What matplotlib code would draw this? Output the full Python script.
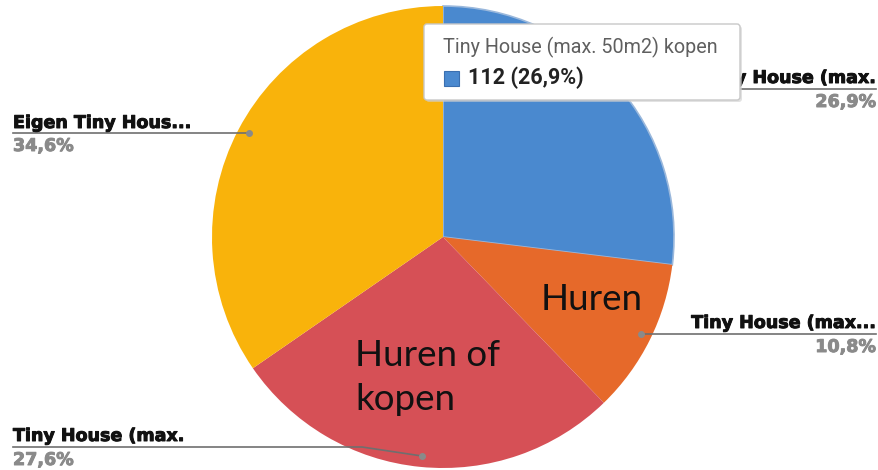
import matplotlib.pyplot as plt
import matplotlib.patheffects as pe
from matplotlib.patches import FancyBboxPatch, Rectangle

labels = ['Tiny House (max.', 'Tiny House (max...', 'Tiny House (max.', 'Eigen Tiny Hous...']
values = [112, 45, 115, 144]
pcts = ['26,9%', '10,8%', '27,6%', '34,6%']
colors = ['#4a89cf', '#e6692a', '#d65056', '#f9b30b']

W, H = 879, 470
fig = plt.figure(figsize=(W / 100, H / 100), dpi=100)
ax = fig.add_axes([0, 0, 1, 1])

cx, cy, r = 443, H - 237, 231
wedges, _ = ax.pie(values, colors=colors, startangle=90, counterclock=False,
                   center=(cx, cy), radius=r, frame=True)
ax.set_xlim(0, W)
ax.set_ylim(0, H)
ax.set_aspect('equal')
ax.axis('off')
wedges[0].set_edgecolor('#9ab8dc')
wedges[0].set_linewidth(1.2)

# outside labels (y in image pixels from top)
lab_font = dict(family='DejaVu Sans', weight='bold', fontsize=12.6)
# (text x, text y, ha, line x0, line x1, line y end, dot x, dot y)
specs = [
    (876, 78, 'right', 640, 876, 89, None, None),
    (876, 323, 'right', 641, 876, 334, 641, 334),
    (13, 436, 'left', 13, 422, 447, 422, 456),
    (13, 123, 'left', 13, 249, 133, 249, 133),
]
for i, (tx, ty, ha, x0, x1, ly, dx, dy) in enumerate(specs):
    ax.text(tx, H - ty, labels[i], ha=ha, va='center', color='#111111',
            path_effects=[pe.withStroke(linewidth=0.7, foreground='#111111')], **lab_font)
    ax.text(tx, H - (ly + 13), pcts[i], ha=ha, va='center', color='#8a8a8a',
            path_effects=[pe.withStroke(linewidth=0.7, foreground='#8a8a8a')], **lab_font)
    if dx is not None:
        if ha == 'left':
            ax.plot([x0, x1 - 60, dx], [H - ly, H - ly, H - dy], color='#6f6f6f', lw=1.2)
        else:
            ax.plot([dx, x1], [H - dy, H - ly], color='#6f6f6f', lw=1.2)
        ax.plot(dx, H - dy, 'o', color='#8a8a8a', ms=4)
    else:
        ax.plot([x0, x1], [H - ly, H - ly], color='#6f6f6f', lw=1.2)

# slice annotations
ann_font = dict(family='Lato', fontsize=26.5, color='#111111')
ax.text(541, H - 300, 'Huren', ha='left', va='center', **ann_font)
ax.text(355, H - 355, 'Huren of', ha='left', va='center', **ann_font)
ax.text(355, H - 400, 'kopen', ha='left', va='center', **ann_font)

# tooltip
shadow = FancyBboxPatch((426, H - 102), 316, 76, boxstyle='round,pad=0,rounding_size=3',
                        facecolor='#d0d0d0', edgecolor='none', alpha=0.6, zorder=5)
ax.add_patch(shadow)
box = FancyBboxPatch((424, H - 100), 316, 76, boxstyle='round,pad=0,rounding_size=3',
                     facecolor='white', edgecolor='#c8c8c8', lw=1, zorder=6)
ax.add_patch(box)
ax.text(443, H - 47, 'Tiny House (max. 50m2) kopen', ha='left', va='center',
        family='Roboto', fontsize=14.2, color='#5f5f5f', zorder=7)
ax.add_patch(Rectangle((444, H - 86), 15, 15, facecolor=colors[0], edgecolor='#3a6fb0',
                       lw=0.8, zorder=7))
ax.text(468, H - 78, '112 (26,9%)', ha='left', va='center', family='Roboto',
        weight='bold', fontsize=15.5, color='#222222', zorder=7)

fig.savefig('out.png', dpi=100, facecolor='white')
